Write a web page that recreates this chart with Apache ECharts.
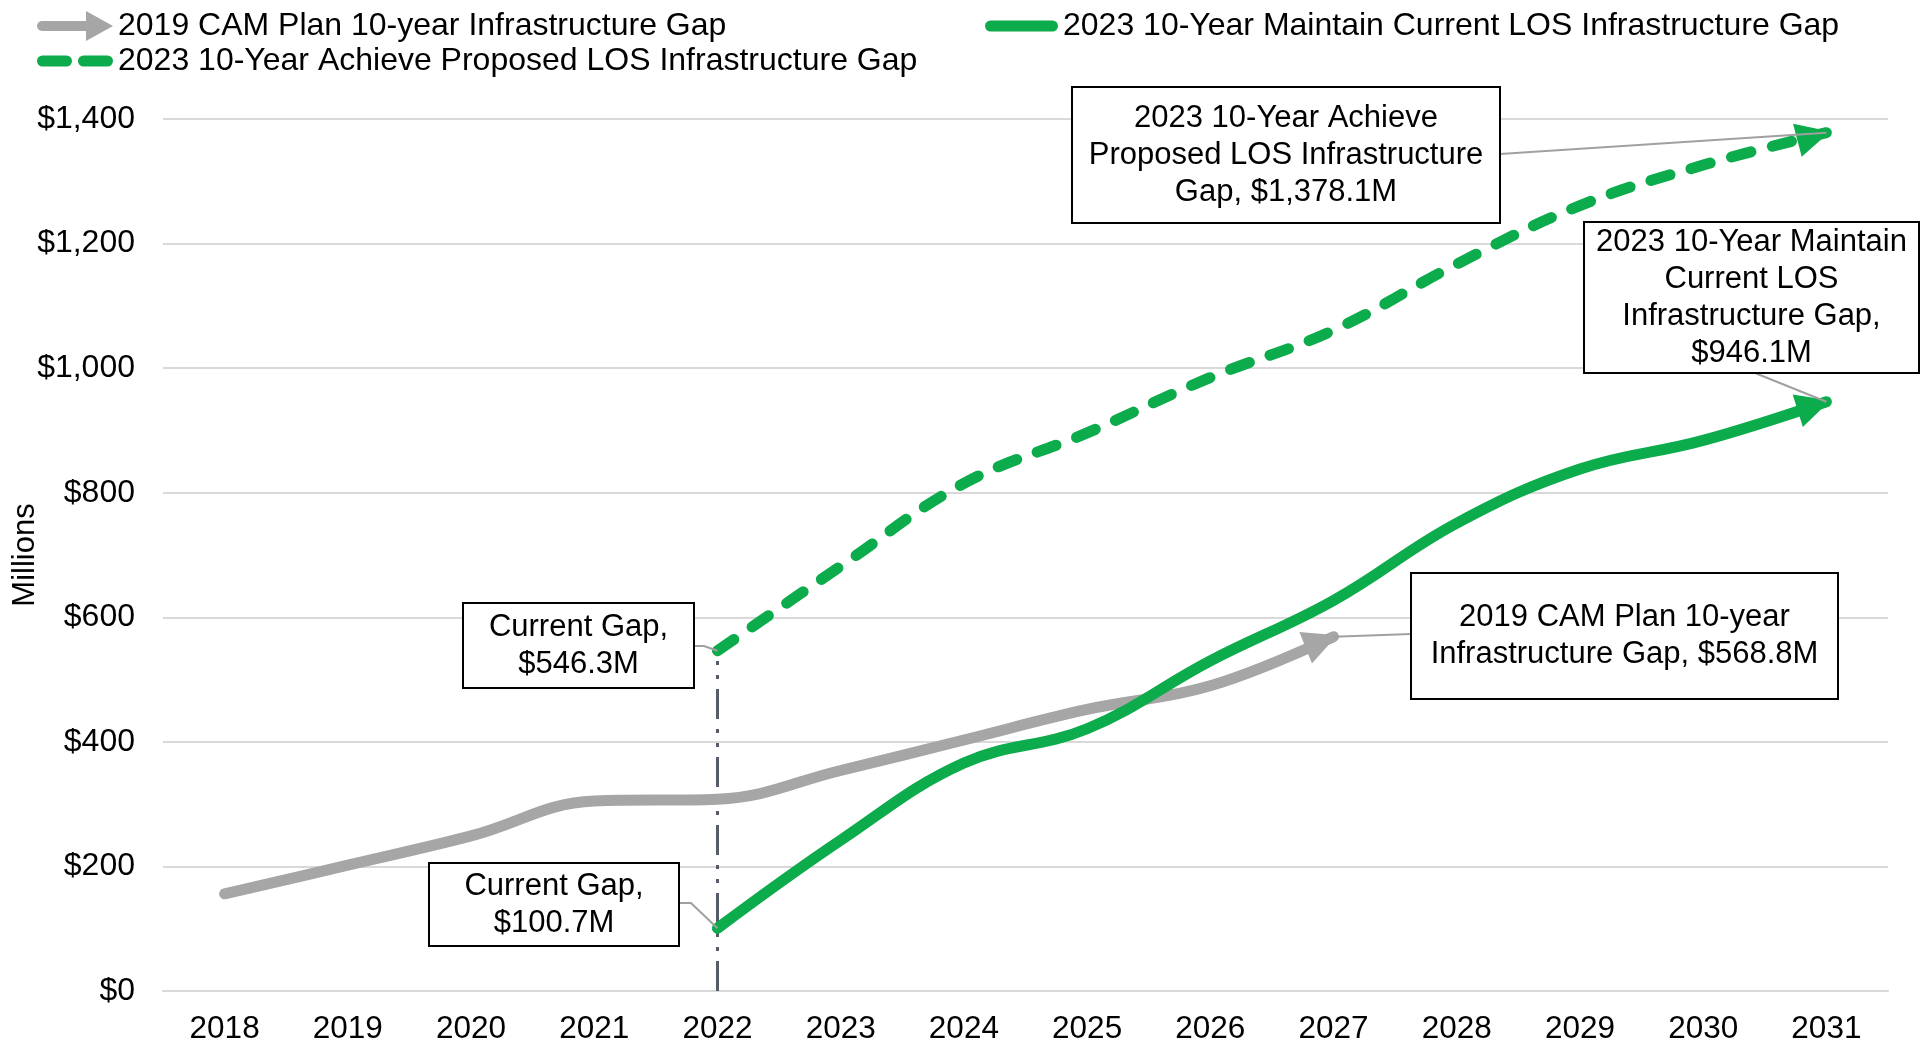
<!DOCTYPE html>
<html>
<head>
<meta charset="utf-8">
<title>Infrastructure Gap</title>
<script src="https://cdn.jsdelivr.net/npm/echarts@6/dist/echarts.min.js"></script>
<style>
  html, body { margin: 0; padding: 0; background: #fff; }
  #chart { width: 1931px; height: 1045px; }
</style>
</head>
<body>
<div id="chart"></div>
<script>
// data, $ millions
var years = ['2018', '2019', '2020', '2021', '2022', '2023', '2024', '2025', '2026', '2027', '2028', '2029', '2030', '2031'];
var camPlan2019 = [156, 202, 249, 305, 308, 354, 403, 452, 490, 568.8, '-', '-', '-', '-'];
var maintain2023 = ['-', '-', '-', '-', 100.7, 242, 366, 421, 530, 627, 751, 838, 884, 946.1];
var achieve2023 = ['-', '-', '-', '-', 546.3, 682, 815, 896, 985, 1061, 1167, 1261, 1326, 1378.1];
var yTicks = [0, 200, 400, 600, 800, 1000, 1200, 1400];

var nameCam = '2019 CAM Plan 10-year Infrastructure Gap';
var nameMaintain = '2023 10-Year Maintain Current LOS Infrastructure Gap';
var nameAchieve = '2023 10-Year Achieve Proposed LOS Infrastructure Gap';

var GREEN = '#0cab4b';
var GREY = '#a6a6a6';
var FONT = '"Liberation Sans", Arial, sans-serif';

function money(v) {
    return '$' + v.toLocaleString('en-US', {minimumFractionDigits: 1, maximumFractionDigits: 1}) + 'M';
}

// last point + previous point of a series, for the arrow head
function lastPair(arr) {
    var i = arr.length - 1;
    while (arr[i] === '-') i--;
    return [i, arr[i], i - 1, arr[i - 1]];
}

function arrowSeries(arr, color) {
    return {
        type: 'custom',
        coordinateSystem: 'cartesian2d',
        clip: false,
        z: 4,
        silent: true,
        data: [lastPair(arr)],
        renderItem: function (params, api) {
            var tip = api.coord([api.value(0), api.value(1)]);
            var from = api.coord([api.value(2), api.value(3)]);
            var a = Math.atan2(tip[1] - from[1], tip[0] - from[0]);
            var ux = Math.cos(a), uy = Math.sin(a);
            var L = 34, W = 17;
            var t = [tip[0] + ux * 4, tip[1] + uy * 4];
            var b = [t[0] - ux * L, t[1] - uy * L];
            return {
                type: 'polygon',
                shape: {points: [t, [b[0] - uy * W, b[1] + ux * W], [b[0] + uy * W, b[1] - ux * W]]},
                style: {fill: color}
            };
        }
    };
}

// callout boxes (pixel layout) anchored on data points
var callouts = [
    {box: [463, 603, 231, 85], lead: [[694, 646], [704, 646]], text: 'Current Gap,\n' + money(achieve2023[4])},
    {box: [429, 863, 250, 83], lead: [[679, 903], [691, 903]], text: 'Current Gap,\n' + money(maintain2023[4])},
    {box: [1072, 87, 428, 136], lead: [[1500, 154]], text: '2023 10-Year Achieve\nProposed LOS Infrastructure\nGap, ' + money(achieve2023[13])},
    {box: [1584, 222, 335, 151], lead: [[1755, 373]], text: '2023 10-Year Maintain\nCurrent LOS\nInfrastructure Gap,\n' + money(maintain2023[13])},
    {box: [1411, 573, 427, 126], lead: [[1411, 634]], text: '2019 CAM Plan 10-year\nInfrastructure Gap, ' + money(camPlan2019[9])}
];
var calloutAnchors = [
    [4, achieve2023[4]],
    [4, maintain2023[4]],
    [13, achieve2023[13]],
    [13, maintain2023[13]],
    [9, camPlan2019[9]]
];

var myChart = echarts.init(document.getElementById('chart'));

var legendText = {fontSize: 32, color: '#000', fontFamily: FONT};

myChart.setOption({
    animation: false,
    backgroundColor: '#fff',
    textStyle: {fontFamily: FONT},
    grid: {left: 163, right: 43, top: 119, bottom: 54, containLabel: false, outerBoundsMode: 'none'},
    legend: [
        {
            left: 32, top: 5, padding: 5, itemWidth: 76, itemHeight: 30, itemGap: 0,
            textStyle: legendText, selectedMode: false,
            data: [{name: nameCam, icon: 'path://M5,10 H49 V0 L76,15 L49,30 V20 H5 A5,5 0 0 1 5,10 Z'}]
        },
        {
            left: 980, top: 5, padding: 5, itemWidth: 73, itemHeight: 11, itemGap: 0,
            textStyle: legendText, selectedMode: false,
            data: [{name: nameMaintain, icon: 'path://M5.5,0 H67.5 A5.5,5.5 0 0 1 67.5,11 H5.5 A5.5,5.5 0 0 1 5.5,0 Z'}]
        },
        {
            left: 32, top: 40, padding: 5, itemWidth: 76, itemHeight: 11, itemGap: 0,
            textStyle: legendText, selectedMode: false,
            data: [{name: nameAchieve, icon: 'path://M5.5,0 H29.5 A5.5,5.5 0 0 1 29.5,11 H5.5 A5.5,5.5 0 0 1 5.5,0 Z M46.5,0 H70.5 A5.5,5.5 0 0 1 70.5,11 H46.5 A5.5,5.5 0 0 1 46.5,0 Z'}]
        }
    ],
    xAxis: {
        type: 'category',
        data: years,
        boundaryGap: true,
        axisTick: {show: false},
        axisLine: {lineStyle: {color: '#d9d9d9', width: 2}},
        axisLabel: {fontSize: 31.5, color: '#000', margin: 22, fontFamily: FONT}
    },
    yAxis: {
        type: 'value',
        min: yTicks[0],
        max: yTicks[yTicks.length - 1],
        interval: 200,
        name: 'Millions',
        nameLocation: 'middle',
        nameGap: 122,
        nameMoveOverlap: false,
        nameTextStyle: {fontSize: 31, color: '#000', fontFamily: FONT},
        axisLine: {show: false},
        axisTick: {show: false},
        splitLine: {lineStyle: {color: '#d9d9d9', width: 2}},
        axisLabel: {
            fontSize: 32, color: '#000', margin: 28, fontFamily: FONT,
            formatter: function (v) { return '$' + v.toLocaleString('en-US'); }
        }
    },
    series: [
        {
            name: nameCam,
            type: 'line',
            smooth: 0.4,
            showSymbol: false,
            z: 3,
            color: GREY,
            itemStyle: {color: GREY},
            lineStyle: {color: GREY, width: 11, cap: 'round'},
            data: camPlan2019
        },
        {
            name: nameMaintain,
            type: 'line',
            smooth: 0.4,
            showSymbol: false,
            z: 3,
            color: GREEN,
            itemStyle: {color: GREEN},
            lineStyle: {color: GREEN, width: 11, cap: 'round'},
            data: maintain2023
        },
        {
            name: nameAchieve,
            type: 'line',
            smooth: 0.4,
            showSymbol: false,
            z: 3,
            color: GREEN,
            itemStyle: {color: GREEN},
            lineStyle: {color: GREEN, width: 11, type: [20, 22], cap: 'round'},
            data: achieve2023,
            markLine: {
                silent: true,
                symbol: 'none',
                z: 2,
                label: {show: false},
                lineStyle: {color: '#555c67', width: 3, type: [30, 10, 4, 10, 4, 10]},
                data: [[{coord: [years[4], 0]}, {coord: [years[4], achieve2023[4]]}]]
            }
        },
        arrowSeries(camPlan2019, GREY),
        arrowSeries(maintain2023, GREEN),
        arrowSeries(achieve2023, GREEN),
        {
            type: 'custom',
            coordinateSystem: 'cartesian2d',
            clip: false,
            silent: true,
            z: 10,
            data: calloutAnchors,
            renderItem: function (params, api) {
                var c = callouts[params.dataIndex];
                var p = api.coord([api.value(0), api.value(1)]);
                var pts = c.lead.concat([p]);
                var bx = c.box;
                return {
                    type: 'group',
                    children: [
                        {type: 'polyline', shape: {points: pts}, style: {stroke: '#a0a0a0', lineWidth: 2, fill: null}},
                        {type: 'rect', shape: {x: bx[0], y: bx[1], width: bx[2], height: bx[3]},
                            style: {fill: '#fff', stroke: '#000', lineWidth: 2}},
                        {type: 'text', x: bx[0] + bx[2] / 2, y: bx[1] + bx[3] / 2,
                            style: {text: c.text, align: 'center', verticalAlign: 'middle',
                                font: '31px ' + FONT, lineHeight: 37, fill: '#000'}}
                    ]
                };
            }
        }
    ]
});
</script>
</body>
</html>
